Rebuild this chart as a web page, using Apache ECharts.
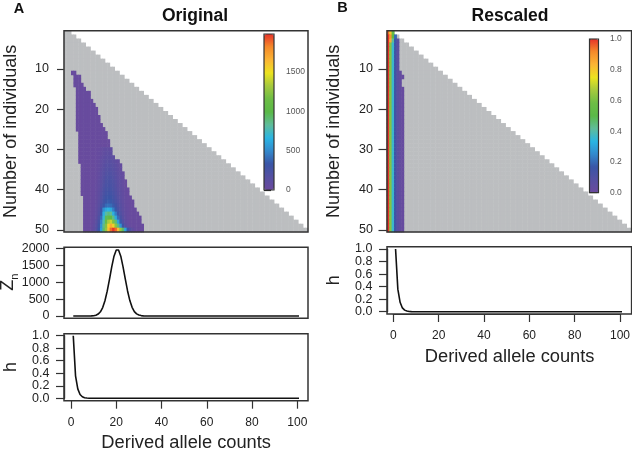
<!DOCTYPE html>
<html>
<head>
<meta charset="utf-8">
<style>html,body{margin:0;padding:0;background:#fff}#c{width:632px;height:450px}</style>
<script src="https://cdn.jsdelivr.net/npm/echarts@6/dist/echarts.min.js"></script>
</head>
<body>
<div id="c"></div>
<script>
// ---------- axis contents ----------
const rowNumbers = Array.from({length: 50}, (_, i) => i + 1);
const columnNumbers = Array.from({length: 101}, (_, i) => i);
const colorbarTicksA = [0, 500, 1000, 1500];
const colorbarTicksB = [0, 0.2, 0.4, 0.6, 0.8, 1.0];
const zTicks = [0, 500, 1000, 1500, 2000];
const hTicksEven = [0, 0.4, 0.8];
const hTicksOdd = [0.2, 0.6, 1.0];
const rampColors = ['#6b4a9e','#5550a2','#3a55a6','#3389cc','#2ab5e3','#5fbc9a','#5ab947','#6dbd45','#a5c93e','#ece31f','#fbb535','#f58a2a','#e6332a'];

// ---------- panel A heat map: extent of the coloured region by row (rows 11..50) ----------
const originalFirstRow = 11;
const originalFirstCol = [3,4,4,4,5,5,5,5,5,5,5,5,5,5,5,6,6,6,6,6,6,6,6,7,7,7,7,7,7,7,7,8,8,8,8,8,8,8,8,8];
const originalLastCol  = [4,6,6,7,8,10,10,11,12,13,13,14,14,15,16,17,17,18,18,19,19,20,22,23,23,24,24,25,25,26,26,27,28,28,29,30,31,31,32,32];
const originalFloor = 20;
// rows 40..50, columns 10..30
const coreWide = {
  40:[8,13,24,46,85,140,205,248,262,252,220,175,130,90,60,38,22,14,10,6,5],
  41:[8,14,26,50,92,155,225,270,288,275,240,190,140,98,64,40,24,14,10,6,5],
  42:[8,14,28,55,100,170,250,300,320,305,265,210,155,108,70,44,26,15,10,6,5],
  43:[8,14,30,60,110,190,280,335,355,340,295,235,175,120,78,48,28,16,10,6,5],
  44:[8,16,32,70,130,230,340,400,420,400,350,280,210,140,90,55,32,18,10,6,5],
  45:[8,16,35,75,150,300,520,620,660,610,460,340,240,160,100,60,35,20,12,6,5],
  46:[8,18,40,85,170,340,640,800,880,830,640,460,300,190,115,65,35,18,10,6,5],
  47:[8,20,45,100,200,400,700,950,1060,1040,860,620,400,240,140,75,38,18,10,6,5],
  48:[10,24,58,125,250,480,780,1100,1330,1390,1210,890,590,350,190,95,45,18,10,6,5],
  49:[12,30,72,150,290,540,860,1220,1550,1690,1560,1250,880,540,300,150,70,28,12,6,5],
  50:[15,38,87,178,336,583,909,1264,1620,1876,1975,1880,1630,1280,920,600,340,178,87,38,15]
};
const coreWideStartCol = 10;
// rows 30..39, columns 12..24
const coreNarrow = {
  30:[14,22,32,48,66,80,84,80,70,56,42,32,24],
  31:[15,24,36,56,78,94,100,95,82,66,50,36,26],
  32:[15,26,40,65,92,112,118,112,98,78,58,42,28],
  33:[16,28,45,75,105,130,138,132,115,92,68,48,32],
  34:[16,30,50,85,120,148,158,152,132,105,78,54,36],
  35:[18,32,56,95,136,168,178,172,150,120,88,60,40],
  36:[18,36,62,105,150,185,198,190,166,132,98,68,44],
  37:[20,38,68,115,165,203,216,208,182,145,108,75,48],
  38:[20,40,72,122,178,218,232,222,195,155,115,80,52],
  39:[22,42,78,130,190,230,245,235,205,165,122,85,56]
};
const coreNarrowStartCol = 12;

// ---------- panel B heat map ----------
const rescaledRow1 = [0.95, 0.8, 0.55];
const rescaledRow2 = [1, 0.9, 0.5, 0.2];
const rescaledRow3 = [1, 0.85, 0.42, 0.17, 0.07];
const rescaledTypical = [1, 0.62, 0.36, 0.15, 0.06, 0.03, 0.02];
const rescaledLastColByRow = {11:5, 12:6, 13:5, 14:5};
const rescaledLastColOtherTop = 4;
const rescaledLastColBottom = 6;

// ---------- line panels ----------
const derivedCounts = Array.from({length: 101}, (_, i) => i + 1);
const zPeak = [0,0,0,0,0,0,0,1,3,9,24,57,125,249,449,733,1084,1453,1768,1950,1950,1768,1453,1090,740,455,255,130,62,28,12,5,2,1];
const hDecay = [1,0.36,0.15,0.06,0.025,0.01,0.004,0.001];

// ---------- build cells ----------
const grayCells = [];
const grayCellsB = [];
rowNumbers.forEach(n => {
  for (let c = 0; c <= 2 * n; c++) { grayCells.push([c, n - 1, 0]); grayCellsB.push([c, n - 1, 0]); }
});
const originalCells = [];
originalFirstCol.forEach((first, i) => {
  const n = originalFirstRow + i, last = originalLastCol[i];
  for (let c = first; c <= last; c++) {
    let v = originalFloor;
    if (coreWide[n]) {
      const w = coreWide[n][c - coreWideStartCol];
      if (w !== undefined) v = Math.max(w, originalFloor);
    } else if (coreNarrow[n]) {
      const w = coreNarrow[n][c - coreNarrowStartCol];
      if (w !== undefined) v = Math.max(w, originalFloor);
    }
    originalCells.push([c, n - 1, v]);
  }
});
const rescaledCells = [];
rowNumbers.forEach(n => {
  let list = rescaledTypical, last = rescaledLastColBottom;
  if (n === 1) { list = rescaledRow1; last = 2; }
  else if (n === 2) { list = rescaledRow2; last = 3; }
  else if (n === 3) { list = rescaledRow3; last = 4; }
  else if (n <= 14) { last = rescaledLastColByRow[n] !== undefined ? rescaledLastColByRow[n] : rescaledLastColOtherTop; }
  for (let c = 0; c <= last; c++) rescaledCells.push([c, n - 1, list[c] !== undefined ? list[c] : 0.02]);
});
const zLine = derivedCounts.map((x, i) => [x, zPeak[i] !== undefined ? zPeak[i] : 0]);
const hLine = derivedCounts.map((x, i) => [x, hDecay[i] !== undefined ? hDecay[i] : 0]);

// ---------- styles ----------
const FONT = '"Liberation Sans", Arial, sans-serif';
const INK = '#222';
const FRAME = '#333';
const frameGrid = (left, top, width, height) => ({left, top, width, height, show: true, borderColor: FRAME, borderWidth: 1.5, backgroundColor: 'transparent', z: 5, outerBoundsMode: 'none', containLabel: false});
const plainGrid = (left, top, width, height) => ({left, top, width, height, show: false, outerBoundsMode: 'none', containLabel: false});
const hidden = (i, type, extra) => Object.assign({type, gridIndex: i, show: false}, extra || {});
const lineTicks = len => ({show: true, length: len, lineStyle: {color: FRAME, width: 1.2}});
const isTenth = i => (i + 1) % 10 === 0;

const heatY = (g, tickLen, margin, nameGap) => ({
  type: 'category', gridIndex: g, data: rowNumbers, inverse: true,
  axisLine: {show: false},
  axisTick: {show: true, alignWithLabel: true, interval: isTenth, length: tickLen, lineStyle: {color: FRAME, width: 1.2}},
  axisLabel: {interval: isTenth, fontSize: 12.5, fontFamily: FONT, color: INK, margin},
  name: 'Number of individuals', nameLocation: 'middle', nameGap, nameRotate: 90, nameMoveOverlap: false,
  nameTextStyle: {fontSize: 18, fontFamily: FONT, color: INK}
});
const colorbarY = (g, max, ticks, tickLen, margin) => ({
  type: 'value', gridIndex: g, position: 'right', min: 0, max,
  splitLine: {show: false}, axisLine: {show: false},
  axisTick: {show: true, length: tickLen, customValues: ticks, lineStyle: {color: '#222', width: 1.2}},
  axisLabel: {fontSize: 8.5, fontFamily: FONT, color: '#555', margin, customValues: ticks,
    formatter: v => max === 1 ? v.toFixed(1) : String(v)}
});
const lineX = (g, offset, margin, nameGap, namePad) => ({
  type: 'value', gridIndex: g, position: 'bottom', min: 0, max: 100, interval: 20, offset,
  splitLine: {show: false},
  axisLine: {show: true, onZero: false, lineStyle: {color: FRAME, width: 1.2}},
  axisTick: lineTicks(8),
  axisLabel: {fontSize: 12, fontFamily: FONT, color: INK, margin, hideOverlap: false, showMinLabel: true, showMaxLabel: true},
  name: 'Derived allele counts', nameLocation: 'middle', nameGap, nameMoveOverlap: false,
  nameTextStyle: {fontSize: 18.3, fontFamily: FONT, color: INK, padding: [0, 0, 0, namePad]}
});
const lineY = (g, max, ticks, offset, name, nameGap, fmt) => ({
  type: 'value', gridIndex: g, position: 'left', min: 0, max, offset,
  splitLine: {show: false},
  axisLine: {show: true, onZero: false, lineStyle: {color: FRAME, width: 1.2}},
  axisTick: {show: true, length: 8, customValues: ticks, lineStyle: {color: FRAME, width: 1.2}},
  axisLabel: {fontSize: 12.5, fontFamily: FONT, color: INK, margin: 14.5, rotate: 0, formatter: fmt, customValues: ticks, hideOverlap: false, showMinLabel: true, showMaxLabel: true},
  name, nameLocation: 'middle', nameGap, nameRotate: 90, nameMoveOverlap: false,
  nameTextStyle: {fontSize: 18, fontFamily: FONT, color: INK,
    rich: {z: {fontSize: 18, fontFamily: FONT, color: INK}, n: {fontSize: 11, fontFamily: FONT, color: INK, verticalAlign: 'top', padding: [12, 0, 0, 0]}}}
});
const heatSeries = (x, y, data) => ({type: 'heatmap', xAxisIndex: x, yAxisIndex: y, data, silent: true, progressive: 0, emphasis: {disabled: true}, itemStyle: {borderWidth: 0}});
const lineSeries = (x, y, data) => ({type: 'line', xAxisIndex: x, yAxisIndex: y, data, symbol: 'none', silent: true, clip: false, lineStyle: {color: '#111', width: 1.6}});
const oneFixed = v => Number(v).toFixed(1);
const plainInt = v => String(v);

const chart = echarts.init(document.getElementById('c'), null, {renderer: 'canvas'});
chart.setOption({
  animation: false,
  backgroundColor: '#fff',
  title: [
    {text: 'Original', left: 195, top: 7, textAlign: 'center', textStyle: {fontFamily: FONT, fontSize: 17.5, fontWeight: 'bold', color: '#111'}, padding: 0},
    {text: 'Rescaled', left: 510, top: 7, textAlign: 'center', textStyle: {fontFamily: FONT, fontSize: 17.5, fontWeight: 'bold', color: '#111'}, padding: 0},
    {text: 'A', left: 19, top: 1, textAlign: 'center', textStyle: {fontFamily: FONT, fontSize: 14.5, fontWeight: 'bold', color: '#111'}, padding: 0},
    {text: 'B', left: 342.5, top: 0, textAlign: 'center', textStyle: {fontFamily: FONT, fontSize: 14.5, fontWeight: 'bold', color: '#111'}, padding: 0}
  ],
  grid: [
    frameGrid(64, 30.7, 244, 201.3),
    Object.assign(frameGrid(264, 34, 10, 156), {z: 6, borderWidth: 1.2}),
    frameGrid(387, 30.7, 244.6, 201.3),
    Object.assign(frameGrid(589.5, 39, 9, 153.7), {z: 6, borderWidth: 1.2}),
    frameGrid(64, 247.3, 244, 71),
    plainGrid(71, 248.3, 226.3, 67.7),
    frameGrid(64, 333.7, 244, 67),
    plainGrid(71, 335.7, 226.3, 62.6),
    frameGrid(387, 246.7, 244.6, 67.3),
    plainGrid(393.3, 249, 226.7, 62.7)
  ],
  xAxis: [
    hidden(0, 'category', {data: columnNumbers}),
    hidden(1, 'value'),
    hidden(2, 'category', {data: columnNumbers}),
    hidden(3, 'value'),
    hidden(4, 'value'),
    hidden(5, 'value', {min: 0, max: 100}),
    hidden(6, 'value'),
    lineX(7, 2.4, 15.5, 33.5, 4),
    hidden(8, 'value'),
    lineX(9, 2.3, 16, 33.7, 6)
  ],
  yAxis: [
    heatY(0, 7, 15, 44),
    colorbarY(1, 1980, colorbarTicksA, 7, 12),
    heatY(2, 8.5, 14, 44),
    colorbarY(3, 1, colorbarTicksB, 7.5, 11.5),
    hidden(4, 'value'),
    lineY(5, 2000, zTicks, 7, '{z|Z}{n|n}', 44, plainInt),
    hidden(6, 'value'),
    lineY(7, 1, hTicksEven, 7, 'h', 44, oneFixed),
    hidden(8, 'value'),
    lineY(9, 1, hTicksEven, 6.3, 'h', 44, oneFixed),
    lineY(7, 1, hTicksOdd, 7, '', 44, oneFixed),
    lineY(9, 1, hTicksOdd, 6.3, '', 44, oneFixed)
  ],
  visualMap: [
    {type: 'continuous', seriesIndex: 1, min: 0, max: 1980, left: 264, top: 34, itemWidth: 10, itemHeight: 156, padding: 0, calculable: false, hoverLink: false, inRange: {color: rampColors}, textStyle: {fontSize: 1, color: 'transparent'}},
    {type: 'continuous', seriesIndex: 3, min: 0, max: 1, left: 589.5, top: 39, itemWidth: 9, itemHeight: 153.7, padding: 0, calculable: false, hoverLink: false, inRange: {color: rampColors}, textStyle: {fontSize: 1, color: 'transparent'}},
    {type: 'continuous', seriesIndex: [0, 2], show: false, min: 0, max: 1, inRange: {color: ['#bcbec0', '#bcbec0']}}
  ],
  series: [
    heatSeries(0, 0, grayCells),
    heatSeries(0, 0, originalCells),
    heatSeries(2, 2, grayCellsB),
    heatSeries(2, 2, rescaledCells),
    lineSeries(5, 5, zLine),
    lineSeries(7, 7, hLine),
    lineSeries(9, 9, hLine)
  ]
});
</script>
</body>
</html>
